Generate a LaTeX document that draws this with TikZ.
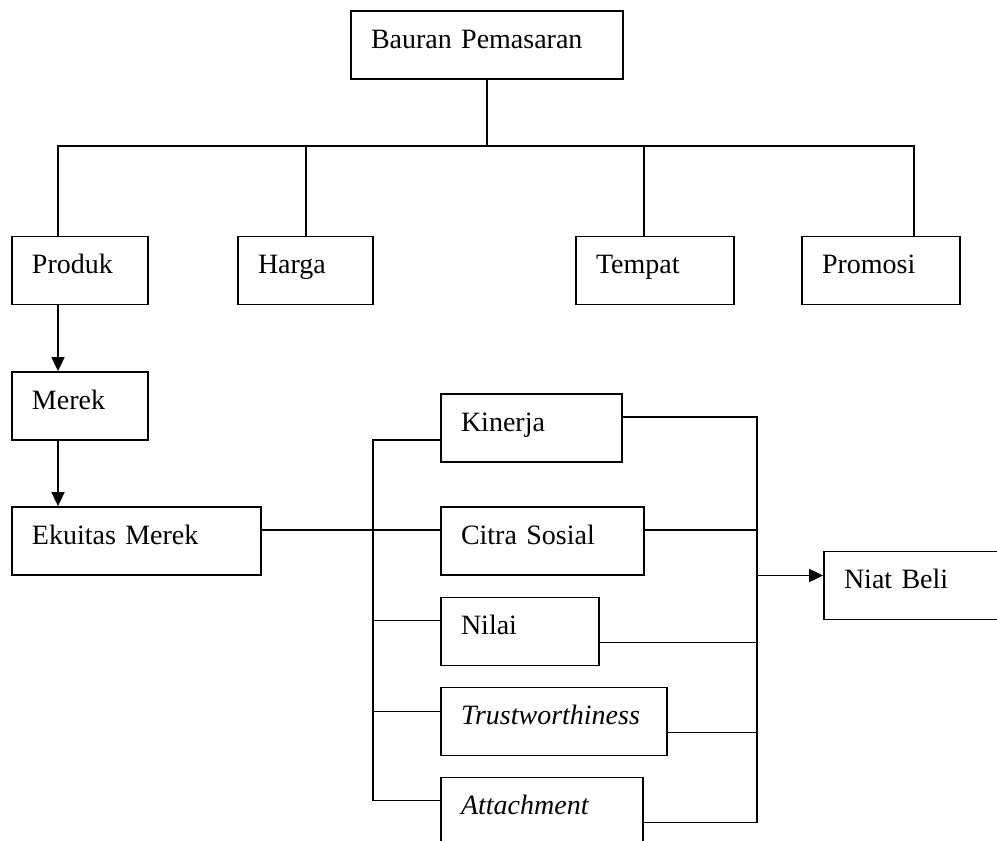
\documentclass[tikz,border=0pt]{standalone}
\usepackage{fontspec}
\setmainfont{Liberation Serif}
\usetikzlibrary{arrows.meta,positioning,calc}
\tikzset{
  box/.style={draw, line width=0.9pt, minimum height=34pt, inner xsep=10pt, text width=#1, align=left, text height=10pt, text depth=7pt},
  link/.style={line width=0.9pt, line cap=rect},
  arr/.style={-{Triangle[length=7pt,width=6.5pt]}, line width=0.9pt},
}
\begin{document}
\begin{tikzpicture}[x=0.5pt,y=-0.5pt,font=\fontsize{14}{17}\selectfont]
  \useasboundingbox (0,0) rectangle (997,841);
  \clip (0,0) rectangle (997,841);
  \node[box=116pt] (bauran) at (487,45) {Bauran Pemasaran};
  \node[box=48pt] (produk) at (80,270.5) {Produk};
  \node[box=47.5pt] (harga) at (305.5,270.5) {Harga};
  \node[box=59pt] (tempat) at (655,270.5) {Tempat};
  \node[box=59pt] (promosi) at (881,270.5) {Promosi};
  \node[box=48pt] (merek) at (80,406) {Merek};
  \node[box=104.5pt] (ekuitas) at (136.5,541) {Ekuitas Merek};
  \node[box=70.5pt] (kinerja) at (531.5,428) {Kinerja};
  \node[box=81.5pt] (citra) at (542.5,541) {Citra Sosial};
  \node[box=59pt] (nilai) at (520,631.5) {Nilai};
  \node[box=93pt] (trust) at (554,721.5) {\textit{Trustworthiness}};
  \node[box=81pt] (attach) at (542,811.5) {\textit{Attachment}};
  \node[box=80pt] (niat) at (924,585.5) {Niat Beli};

  \coordinate (bus) at (487,146);
  \draw[link] (bauran.south) -- (bus);
  \foreach \n/\x in {produk/58, harga/306, tempat/644, promosi/914} {
    \coordinate (d-\n) at (\x,146);
    \draw[link] (d-\n) -- (d-\n |- \n.north);
  }
  \draw[link] (d-produk) -- (d-promosi);
  \draw[arr] (d-produk |- produk.south) -- (d-produk |- merek.north);
  \draw[arr] (d-produk |- merek.south) -- (d-produk |- ekuitas.north);

  \coordinate (lsp) at (373,0);
  \coordinate (rsp) at (757,0);
  \foreach \n/\l/\r in {kinerja/12/-11, citra/-11/-11, nilai/-11/11, trust/-10/11, attach/-11/11} {
    \coordinate (l-\n) at ($(\n.west)+(0,\l)$);
    \coordinate (r-\n) at ($(\n.east)+(0,\r)$);
    \draw[link] (l-\n) -- (l-\n -| lsp);
    \draw[link] (r-\n) -- (r-\n -| rsp);
  }
  \draw[link] (l-kinerja -| lsp) -- (l-attach -| lsp);
  \draw[link] (r-kinerja -| rsp) -- (r-attach -| rsp);
  \coordinate (ek-out) at ($(ekuitas.east)+(0,-11)$);
  \draw[link] (ek-out) -- (ek-out -| lsp);
  \coordinate (niat-in) at ($(niat.west)+(0,-10)$);
  \draw[arr] (niat-in -| rsp) -- (niat-in);
\end{tikzpicture}
\end{document}
